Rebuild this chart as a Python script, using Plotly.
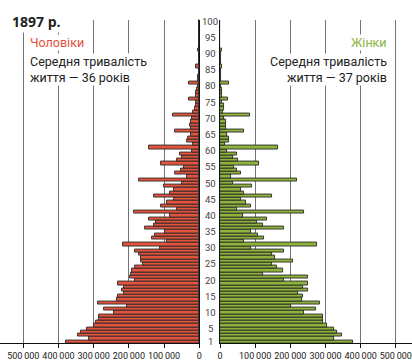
import plotly.graph_objects as go

# Population of the Russian Empire by single year of age, 1897 census
ages = list(range(1, 101))

men = [378, 312, 344, 335, 318, 300, 294, 285, 285, 241,
       270, 206, 289, 234, 230, 214, 220, 214, 232, 182,
       196, 194, 190, 183, 160, 165, 167, 170, 183, 111,
       218, 91, 135, 126, 97, 154, 128, 123, 143, 83,
       185, 62, 108, 91, 71, 130, 82, 71, 100, 48,
       171, 34, 68, 53, 43, 108, 63, 48, 55, 22,
       143, 19, 36, 31, 24, 70, 24, 27, 24, 20,
       74, 17, 13, 10, 10, 29, 8, 8, 6, 5,
       29, 3, 3, 2, 2, 8, 2, 1.5, 1.5, 1.5,
       5, 1, 1, 1, 0.8, 0.8, 0.6, 0.5, 0.5, 0.5]

women = [377, 323, 346, 332, 323, 304, 292, 292, 292, 239,
         273, 202, 283, 233, 236, 223, 251, 237, 249, 183,
         249, 123, 180, 161, 147, 209, 157, 149, 183, 88,
         277, 69, 126, 108, 88, 183, 121, 104, 134, 64,
         240, 47, 88, 73, 60, 149, 69, 60, 92, 38,
         218, 30, 59, 48, 41, 110, 52, 38, 48, 19,
         164, 15, 27, 25, 19, 67, 17, 18, 18, 10,
         84, 8, 10, 10, 5, 24, 5, 7, 5, 3,
         27, 2, 2, 2, 2, 7, 2, 1.5, 1.5, 1.5,
         5, 1, 1, 1, 0.8, 0.8, 0.6, 0.5, 0.5, 0.5]

men = [v * 1000 for v in men]
women = [v * 1000 for v in women]

x_ticks = [0, 100000, 200000, 300000, 400000, 500000]
x_tick_text = ["0", "100\u2009000", "200\u2009000", "300\u2009000", "400\u2009000", "500\u2009000"]
age_labels = [1, 5, 10, 15, 20, 25, 30, 35, 40, 45, 50,
              55, 60, 65, 70, 75, 80, 85, 90, 95, 100]

RED = "#e2533d"
GREEN = "#8db33c"
OUTLINE = "#2b2b2b"
NARROW = "Roboto, Liberation Sans Narrow, sans-serif"

W, H = 412, 361
fig = go.Figure()

fig.add_trace(go.Bar(
    x=men, y=ages, orientation="h", xaxis="x", yaxis="y",
    marker=dict(color=RED, line=dict(color=OUTLINE, width=0.9)),
    name="Чоловіки", showlegend=False,
))
fig.add_trace(go.Bar(
    x=women, y=ages, orientation="h", xaxis="x2", yaxis="y2",
    marker=dict(color=GREEN, line=dict(color=OUTLINE, width=0.9)),
    name="Жінки", showlegend=False,
))

y_dom = [1 - 343.3 / H, 1 - 19.5 / H]
x_common = dict(
    tickvals=x_ticks, ticktext=x_tick_text, tickangle=0,
    ticklabeloverflow="allow",
    showgrid=True, gridcolor="#737373", gridwidth=1.4,
    zeroline=False, showline=True, linecolor="#111", linewidth=1.3,
    ticks="outside", ticklen=4, tickcolor="#111", tickwidth=1.2,
    tickfont=dict(family=NARROW, size=9, color="#222"),
    automargin=False, fixedrange=True,
)
y_common = dict(
    range=[0.5, 100.5], domain=y_dom, showgrid=False, zeroline=False,
    showticklabels=False, ticks="", showline=True, linecolor="#111",
    linewidth=1.3, automargin=False, fixedrange=True,
)

fig.update_layout(
    width=W, height=H,
    margin=dict(l=0, r=0, t=0, b=0),
    paper_bgcolor="white", plot_bgcolor="white",
    bargap=0,
    xaxis=dict(domain=[0, 199.3 / W], range=[566000, 0], anchor="y", **x_common),
    xaxis2=dict(domain=[220 / W, 1], range=[0, 546000], anchor="y2", **x_common),
    yaxis=dict(anchor="x", side="right", **y_common),
    yaxis2=dict(anchor="x2", side="left", **y_common),
)

# Age labels in the centre column
for a in age_labels:
    fig.add_annotation(
        x=210 / W, xref="paper", y=a, yref="y", text=str(a),
        showarrow=False, xanchor="center", yanchor="middle",
        font=dict(family=NARROW, size=9.5, color="#444"),
    )

# Title and panel captions
fig.add_annotation(
    x=10 / W, y=1 - 21 / H, xref="paper", yref="paper", text="<b>1897 р.</b>",
    showarrow=False, xanchor="left", yanchor="middle", bgcolor="white",
    font=dict(family="Open Sans, sans-serif", size=14, color="#222"),
)
left_lines = [("Чоловіки", RED, 42.7), ("Середня тривалість", "#222", 61.7),
              ("життя — 36 років", "#222", 77.3)]
right_lines = [("Жінки", GREEN, 42.7), ("Середня тривалість", "#222", 61.7),
               ("життя — 37 років", "#222", 77.3)]
for text, col, yc in left_lines:
    fig.add_annotation(
        x=29 / W, y=1 - yc / H, xref="paper", yref="paper", text=text,
        showarrow=False, xanchor="left", yanchor="middle", bgcolor="white",
        borderpad=0, font=dict(family=NARROW, size=12.5, color=col),
    )
for text, col, yc in right_lines:
    fig.add_annotation(
        x=388 / W, y=1 - yc / H, xref="paper", yref="paper", text=text,
        showarrow=False, xanchor="right", yanchor="middle", bgcolor="white",
        borderpad=0, font=dict(family=NARROW, size=12.5, color=col),
    )

fig.write_html("out.html", config={"displayModeBar": False})
